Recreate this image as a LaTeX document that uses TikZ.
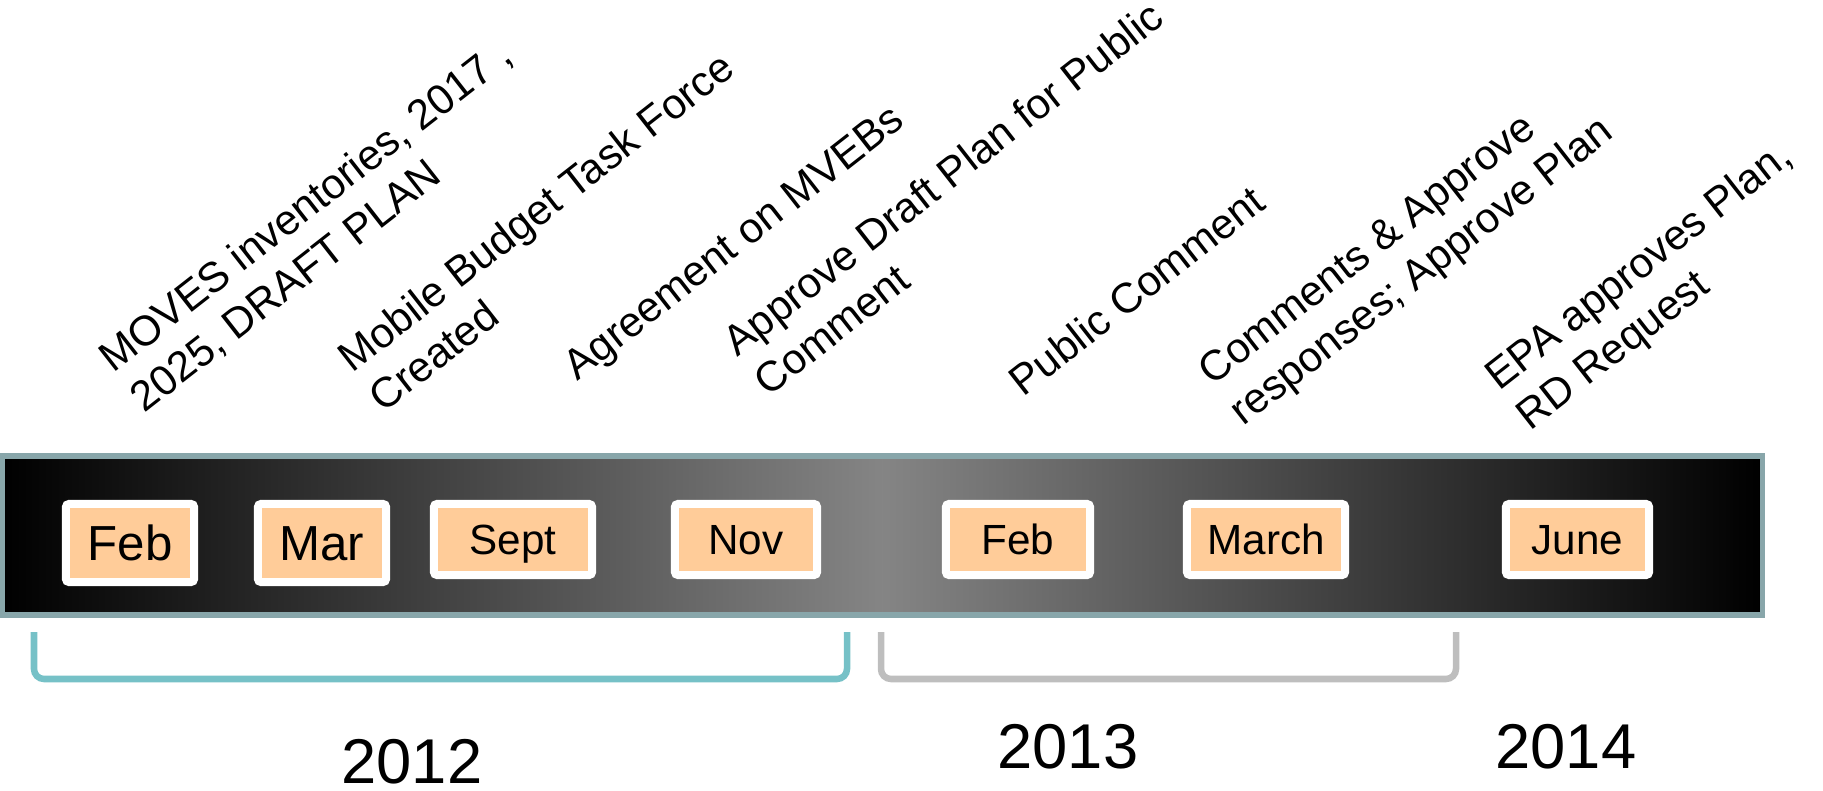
\documentclass[tikz,border=0pt]{standalone}
\usepackage{fontspec}
\setmainfont{Liberation Sans}
\usepackage{tikz}
\usetikzlibrary{positioning}
\definecolor{barrim}{RGB}{136,166,170}
\definecolor{peach}{RGB}{255,204,153}
\definecolor{tealbr}{RGB}{118,193,199}
\definecolor{graybr}{RGB}{190,190,190}
\tikzset{
  month/.style={draw=white, line width=0.08cm, fill=peach, rounded corners=0.03cm, minimum height=0.71cm, inner sep=0pt, font=\fontsize{12}{14}\selectfont, text height=8.6pt, text depth=0pt},
  bigmonth/.style={month, minimum height=0.78cm, font=\fontsize{14}{17}\selectfont, text height=10pt},
  event/.style={rotate=38, anchor=base west, align=left, inner sep=0pt, font=\fontsize{12}{14.4}\selectfont},
  year/.style={anchor=base, inner sep=0pt, font=\fontsize{18}{22}\selectfont},
  bracket/.style={line width=0.065cm, rounded corners=0.1cm}
}

\begin{document}
\begin{tikzpicture}[x=0.01cm, y=-0.01cm]
        \useasboundingbox (0,0) rectangle (1823,791);
        % Timeline bar with dark-light-dark shading
        \draw[draw=barrim, line width=0.05cm, left color=black, right color=black, middle color=black!48] (2,456) rectangle (1762,615);

        % Month boxes on the bar
        \node[bigmonth, minimum width=1.28cm] (feb12) at (130,543) {Feb};
        \node[bigmonth, minimum width=1.28cm] (mar12) at (322,543) {Mar};
        \node[month, minimum width=1.58cm] (sep12) at (513,539.5) {Sept};
        \node[month, minimum width=1.42cm] (nov12) at (746,539.5) {Nov};
        \node[month, minimum width=1.44cm] (feb13) at (1018,539.5) {Feb};
        \node[month, minimum width=1.58cm] (mar13) at (1266,539.5) {March};
        \node[month, minimum width=1.43cm] (jun14) at (1577.5,539.5) {June};

        % Slanted event notes above the bar (placed at start of last line)
        \node[event] (movesnote) at (144,414) {MOVES inventories, 2017 ,\\2025, DRAFT PLAN};
        \node[event] (taskforce) at (383,414) {Mobile Budget Task Force\\Created};
        \node[event] (mvebs) at (577,382) {Agreement on MVEBs};
        \node[event] (draftplan) at (768,398) {Approve Draft Plan for Public\\Comment};
        \node[event] (pubcomment) at (1023,398) {Public Comment};
        \node[event] (approveplan) at (1243,427) {Comments \& Approve\\responses; Approve Plan};
        \node[event] (epaplan) at (1530,432) {EPA approves Plan,\\RD Request};

        % Year brackets and years
        \draw[bracket, tealbr] (34,632) -- (34,679) -- (847,679) -- (847,632);
        \draw[bracket, graybr] (881,632) -- (881,679) -- (1456,679) -- (1456,632);
        \node[year] (y2012) at (412,783) {2012};
        \node[year] (y2013) at (1068,768) {2013};
        \node[year] (y2014) at (1566,768) {2014};
\end{tikzpicture}
\end{document}
